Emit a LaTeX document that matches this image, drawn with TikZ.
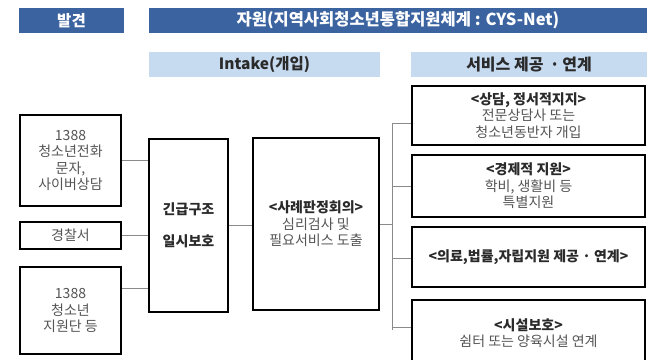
\documentclass[tikz,border=0pt]{standalone}
\usepackage{fontspec}
\setmainfont{Noto Sans CJK KR}
\usetikzlibrary{positioning,calc}
\definecolor{darkbar}{HTML}{3A63A0}
\definecolor{lightbar}{HTML}{C6DAF0}
\definecolor{bodytxt}{HTML}{555555}
\definecolor{titletxt}{HTML}{2A2A2A}
\definecolor{linkgray}{HTML}{8A8A8A}
\begin{document}
\begin{tikzpicture}[x=1pt,y=-1pt,
  darkhead/.style={fill=darkbar,draw=none,text=white,font=\fontsize{16.5}{18}\selectfont\bfseries,inner sep=0pt},
  lighthead/.style={fill=lightbar,draw=none,text=titletxt,font=\fontsize{16}{18}\selectfont\bfseries,inner sep=0pt},
  boxnode/.style={draw=black,line width=1.6pt,fill=white,align=center,inner sep=0pt,text=bodytxt,font=\fontsize{14}{16.5}\selectfont},
  link/.style={draw=linkgray,line width=0.8pt}]
\useasboundingbox (0,0) rectangle (647,359);
\clip (0,0) rectangle (647,359);
\fill[white] (0,0) rectangle (647,359);
% header bars
\node[darkhead,minimum width=105pt,minimum height=25pt,font=\fontsize{15.5}{17}\selectfont\bfseries] (find) at (71.5,20.5) {발견};
\node[darkhead,minimum width=498pt,minimum height=25pt] (res) at (398,20.5) {자원(지역사회청소년통합지원체계 : CYS-Net)};
\node[lighthead,minimum width=231pt,minimum height=25pt,font=\fontsize{15.5}{17}\selectfont\bfseries] (intake) at (264.5,64.5) {Intake(개입)};
\node[lighthead,minimum width=236pt,minimum height=25pt] (svc) at (529,64.5) {서비스 제공 \,·\,연계};
% left boxes
\node[boxnode,minimum width=101pt,minimum height=91pt] (L1) at (70.5,160.5) {1388\\청소년전화\\문자,\\사이버상담};
\node[boxnode,minimum width=101pt,minimum height=27pt] (L2) at (70.5,235.5) {경찰서};
\node[boxnode,minimum width=101pt,minimum height=87pt] (L3) at (70.5,310.5) {1388\\청소년\\지원단 등};
% middle boxes
\node[boxnode,minimum width=79pt,minimum height=173pt,text=titletxt,font=\fontsize{14}{16}\selectfont\bfseries] (M1) at (188.5,225.5) {긴급구조\\[16pt]일시보호};
\node[boxnode,minimum width=126pt,minimum height=172pt] (M2) at (316,224) {{\bfseries\color{titletxt}<사례판정회의>}\\심리검사 및\\필요서비스 도출};
% right boxes
\node[boxnode,minimum width=233pt,minimum height=59pt] (R1) at (528.5,115.5) {{\bfseries\color{titletxt}<상담, 정서적지지>}\\전문상담사 또는\\청소년동반자 개입};
\node[boxnode,minimum width=233pt,minimum height=62pt] (R2) at (528.5,186) {{\bfseries\color{titletxt}<경제적 지원>}\\학비, 생활비 등\\특별지원};
\node[boxnode,minimum width=233pt,minimum height=60pt] (R3) at (528.5,257) {{\bfseries\color{titletxt}<의료,법률,자립지원 제공 · 연계>}};
\node[boxnode,minimum width=233pt,minimum height=66pt] (R4) at (528.5,333) {{\bfseries\color{titletxt}<시설보호>}\\쉼터 또는 양육시설 연계};
% connectors left -> M1
\coordinate (l3out) at ([yshift=22.5pt]L3.east);
\draw[link] (L1.east) -- (M1.west |- L1.east);
\draw[link] (L2.east) -- (M1.west |- L2.east);
\draw[link] (l3out) -- (M1.west |- l3out);
% M1 -> M2
\draw[link] (M1.east) -- (M2.west |- M1.east);
% M2 -> trunk -> right boxes
\coordinate (trunk) at (392,224);
\draw[link] (M2.east) -- (trunk);
\draw[link] (trunk |- 0,123) -- (trunk |- 0,330);
\draw[link] (trunk |- 0,123) -- (R1.west |- 0,123);
\draw[link] (trunk |- 0,186) -- (R2.west |- 0,186);
\draw[link] (trunk |- 0,258) -- (R3.west |- 0,258);
\draw[link] (trunk |- 0,327) -- (R4.west |- 0,327);
\end{tikzpicture}
\end{document}
